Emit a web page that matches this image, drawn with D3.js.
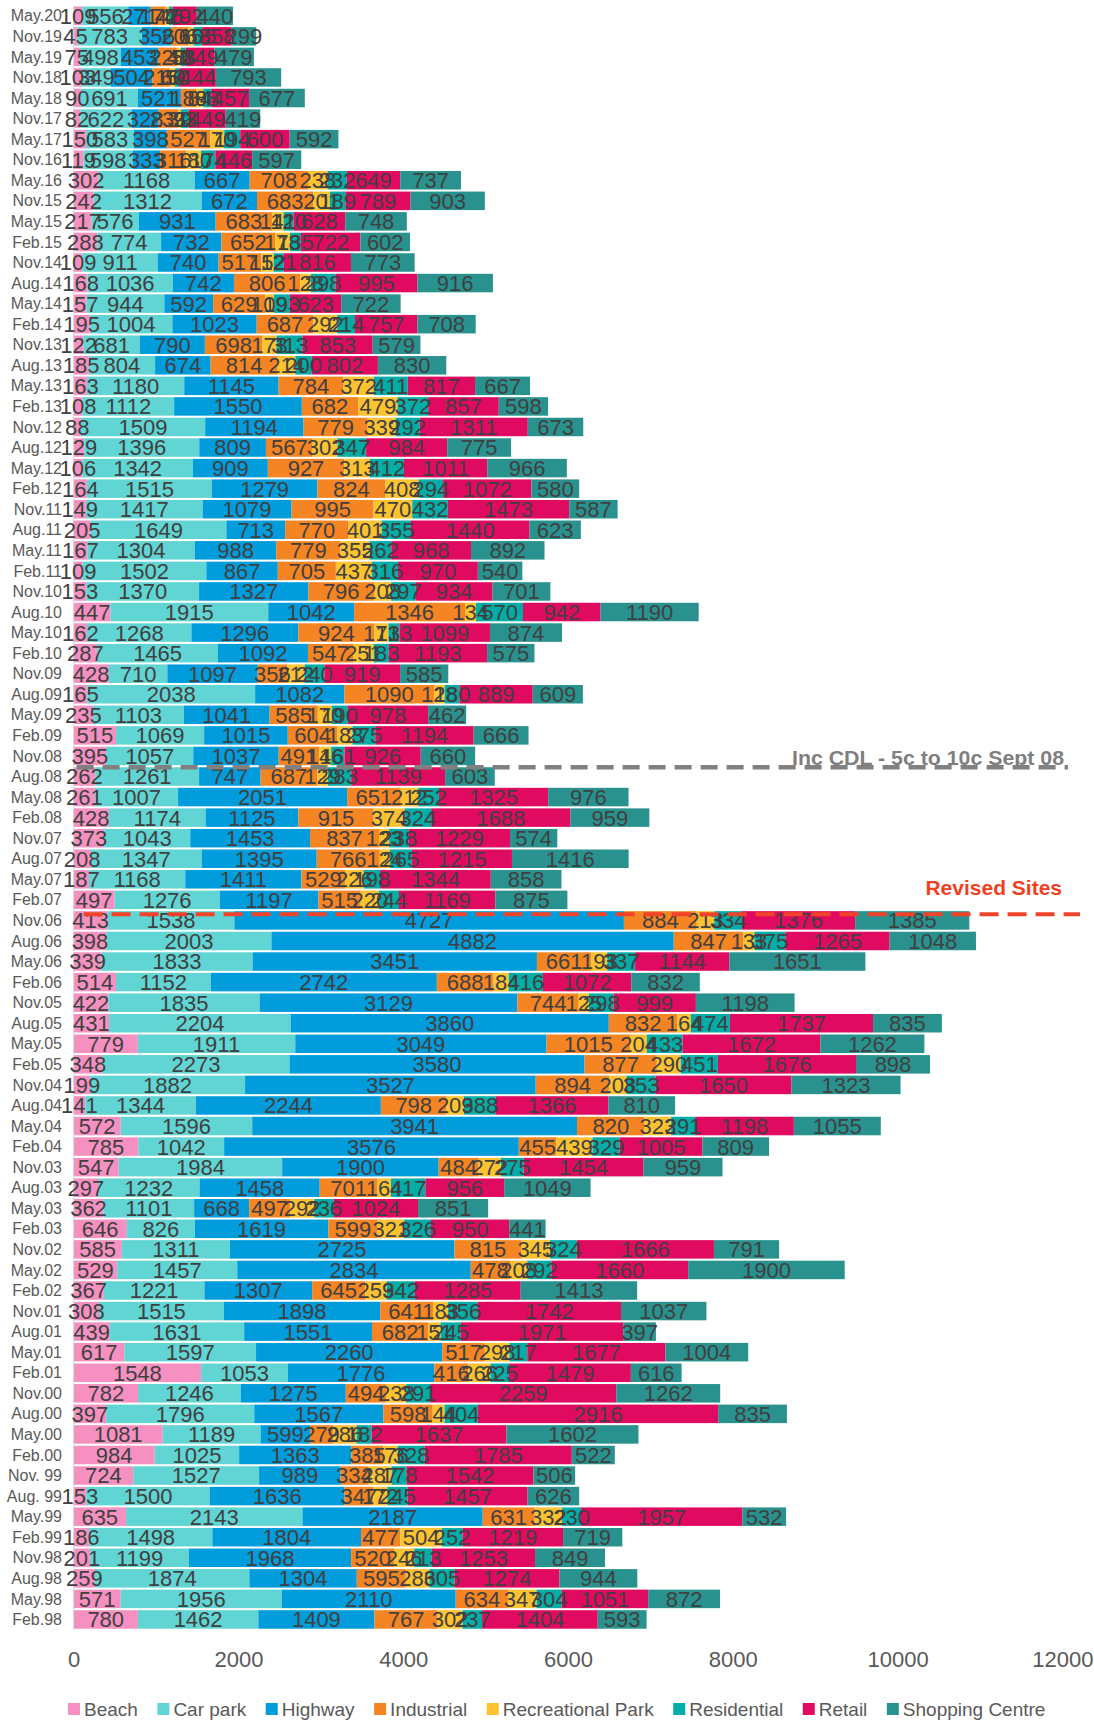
<!DOCTYPE html>
<meta charset="utf-8">
<style>
  body { margin: 0; background: #fff; }
  text { font-family: "Liberation Sans", Arial, sans-serif; }
</style>
<script src="https://d3js.org/d3.v7.min.js"></script>
<div id="my_dataviz"></div>
<script>

// survey periods, top of chart to bottom
var periods = ["May.20","Nov.19","May.19","Nov.18","May.18","Nov.17","May.17","Nov.16","May.16","Nov.15",
  "May.15","Feb.15","Nov.14","Aug.14","May.14","Feb.14","Nov.13","Aug.13","May.13","Feb.13",
  "Nov.12","Aug.12","May.12","Feb.12","Nov.11","Aug.11","May.11","Feb.11","Nov.10","Aug.10",
  "May.10","Feb.10","Nov.09","Aug.09","May.09","Feb.09","Nov.08","Aug.08","May.08","Feb.08",
  "Nov.07","Aug.07","May.07","Feb.07","Nov.06","Aug.06","May.06","Feb.06","Nov.05","Aug.05",
  "May.05","Feb.05","Nov.04","Aug.04","May.04","Feb.04","Nov.03","Aug.03","May.03","Feb.03",
  "Nov.02","May.02","Feb.02","Nov.01","Aug.01","May.01","Feb.01","Nov.00","Aug.00","May.00",
  "Feb.00","Nov. 99","Aug. 99","May.99","Feb.99","Nov.98","Aug.98","May.98","Feb.98"];

var seriesNames = ["Beach","Car park","Highway","Industrial","Recreational Park","Residential","Retail","Shopping Centre"];

var beach = [109,45,75,103,90,82,150,119,302,242,217,288,109,168,157,195,122,185,163,108,
  88,129,106,164,149,205,167,109,153,447,162,287,428,165,235,515,395,262,261,428,
  373,208,187,497,413,398,339,514,422,431,779,348,199,141,572,785,547,297,362,646,
  585,529,367,308,439,617,1548,782,397,1081,984,724,153,635,186,201,259,571,780];
var carPark = [556,783,498,349,691,622,583,598,1168,1312,576,774,911,1036,944,1004,681,804,1180,1112,
  1509,1396,1342,1515,1417,1649,1304,1502,1370,1915,1268,1465,710,2038,1103,1069,1057,1261,1007,1174,
  1043,1347,1168,1276,1538,2003,1833,1152,1835,2204,1911,2273,1882,1344,1596,1042,1984,1232,1101,826,
  1311,1457,1221,1515,1631,1597,1053,1246,1796,1189,1025,1527,1500,2143,1498,1199,1874,1956,1462];
var highway = [271,356,453,504,521,328,398,333,667,672,931,732,740,742,592,1023,790,674,1145,1550,
  1194,809,909,1279,1079,713,988,867,1327,1042,1296,1092,1097,1082,1041,1015,1037,747,2051,1125,
  1453,1395,1411,1197,4727,4882,3451,2742,3129,3860,3049,3580,3527,2244,3941,3576,1900,1458,668,1619,
  2725,2834,1307,1898,1551,2260,1776,1275,1567,599,1363,989,1636,2187,1804,1968,1304,2110,1409];
var industrial = [174,206,228,216,188,233,527,316,708,683,683,652,517,806,629,687,698,814,784,682,
  779,567,927,824,995,770,779,705,796,1346,924,547,356,1090,585,604,491,687,651,915,
  837,766,529,515,884,847,661,688,744,832,1015,877,894,798,820,455,484,701,497,599,
  815,478,645,641,682,517,416,494,598,279,385,334,347,631,477,520,595,634,767];
var recreational = [47,65,48,60,84,39,170,180,238,201,141,178,152,128,109,292,173,214,372,479,
  339,302,313,408,470,401,355,437,208,134,171,251,212,128,170,183,146,129,212,374,
  123,124,226,220,213,133,193,184,125,164,204,290,208,209,323,439,272,164,292,321,
  345,208,259,183,151,298,266,238,144,286,176,287,172,332,504,246,286,347,302];
var residential = [46,105,58,50,98,93,194,174,232,189,120,135,121,298,193,214,313,200,411,372,
  292,347,412,294,432,355,262,316,297,570,133,183,240,180,190,275,161,283,252,324,
  238,265,198,244,334,375,337,416,298,474,433,451,353,388,291,329,275,417,236,326,
  324,292,342,356,245,217,225,291,404,182,328,178,245,230,252,213,305,304,237];
var retail = [292,358,349,444,457,449,600,446,649,789,628,722,816,995,623,757,853,802,817,857,
  1311,984,1011,1072,1473,1440,968,970,934,942,1099,1193,919,889,978,1194,926,1139,1325,1688,
  1229,1215,1344,1169,1376,1265,1144,1072,999,1737,1672,1676,1650,1366,1198,1005,1454,956,1024,950,
  1666,1660,1285,1742,1971,1677,1479,2259,2916,1637,1785,1542,1457,1957,1219,1253,1274,1051,1404];
var shopping = [440,299,479,793,677,419,592,597,737,903,748,602,773,916,722,708,579,830,667,598,
  673,775,966,580,587,623,892,540,701,1190,874,575,585,609,462,666,660,603,976,959,
  574,1416,858,875,1385,1048,1651,832,1198,835,1262,898,1323,810,1055,809,959,1049,851,441,
  791,1900,1413,1037,397,1004,616,1262,835,1602,522,506,626,532,719,849,944,872,593];

var xTicks = [0, 2000, 4000, 6000, 8000, 10000, 12000];

var colors = ["#F590C0","#61D5D3","#019CDC","#F58423","#FDC22F","#00ADA7","#E00B60","#29928E"];

// build rows for d3.stack
var seriesValues = [beach, carPark, highway, industrial, recreational, residential, retail, shopping];
var rows = periods.map(function(p, i) {
  var r = {period: p};
  seriesNames.forEach(function(s, j) { r[s] = seriesValues[j][i]; });
  return r;
});
var stacked = d3.stack().keys(seriesNames)(rows);

var width = 1094, height = 1720;

var svg = d3.select("#my_dataviz")
  .append("svg")
    .attr("width", width)
    .attr("height", height);

// scales
var x = d3.scaleLinear()
  .domain([0, 12000])
  .range([73.6, 1062.4]);

var y = d3.scaleBand()
  .domain(periods)
  .range([5.5, 5.5 + 20.56 * periods.length])
  .paddingInner(0.1)
  .paddingOuter(0.05);

// bars
var layers = svg.selectAll("g.layer")
  .data(stacked)
  .enter()
  .append("g")
    .attr("class", "layer")
    .attr("fill", function(d, i) { return colors[i]; });

layers.selectAll("rect")
  .data(function(d) { return d; })
  .enter()
  .append("rect")
    .attr("x", function(d) { return x(d[0]); })
    .attr("y", function(d) { return y(d.data.period); })
    .attr("width", function(d) { return x(d[1]) - x(d[0]); })
    .attr("height", y.bandwidth());

// vertical axis line
svg.append("line")
  .attr("x1", x(0)).attr("x2", x(0))
  .attr("y1", y.range()[0]).attr("y2", y.range()[1])
  .attr("stroke", "#d9d9d9")
  .attr("stroke-width", 1);

// category labels
svg.selectAll("text.cat")
  .data(periods)
  .enter()
  .append("text")
    .attr("class", "cat")
    .attr("x", 62)
    .attr("y", function(d) { return y(d) + y.bandwidth() / 2; })
    .attr("dy", "0.35em")
    .attr("text-anchor", "end")
    .style("font-size", "16px")
    .style("fill", "#595959")
    .text(function(d) { return d; });

// data labels
stacked.forEach(function(layer) {
  svg.append("g")
    .selectAll("text")
    .data(layer)
    .enter()
    .append("text")
      .attr("x", function(d) { return (x(d[0]) + x(d[1])) / 2; })
      .attr("y", function(d) { return y(d.data.period) + y.bandwidth() / 2; })
      .attr("dy", "0.36em")
      .attr("text-anchor", "middle")
      .style("font-size", "22px")
      .style("fill", "#404040")
      .text(function(d) { return d[1] - d[0]; });
});

// annotation lines
var yCdl = (y("Nov.08") + y.bandwidth() + y("Aug.08")) / 2 + 1;
svg.append("line")
  .attr("x1", x(0) + 3).attr("x2", 1068)
  .attr("y1", yCdl).attr("y2", yCdl)
  .attr("stroke", "#808080")
  .attr("stroke-width", 4.5)
  .attr("stroke-dasharray", "17,9");
svg.append("text")
  .attr("x", 1064)
  .attr("y", yCdl - 2)
  .attr("text-anchor", "end")
  .attr("textLength", 272)
  .attr("lengthAdjust", "spacingAndGlyphs")
  .style("font-size", "20px")
  .style("font-weight", "bold")
  .style("fill", "#7F7F7F")
  .text("Inc CDL - 5c to 10c Sept 08");

var yRev = y("Nov.06") + 3;
svg.append("line")
  .attr("x1", x(0) + 10).attr("x2", 1080)
  .attr("y1", yRev).attr("y2", yRev)
  .attr("stroke", "#F0432A")
  .attr("stroke-width", 4)
  .attr("stroke-dasharray", "19,9");
svg.append("text")
  .attr("x", 1062)
  .attr("y", 894.5)
  .attr("text-anchor", "end")
  .style("font-size", "21px")
  .style("font-weight", "bold")
  .style("fill", "#F0411F")
  .text("Revised Sites");

// X axis
var xAxis = svg.append("g")
  .attr("transform", "translate(0,1659)")
  .call(d3.axisBottom(x).tickValues(xTicks).tickSize(0).tickPadding(0).tickFormat(d3.format("d")));
xAxis.select(".domain").remove();
xAxis.selectAll("text")
  .attr("y", 0)
  .attr("dy", "0.35em")
  .style("font-family", "'Liberation Sans', Arial, sans-serif")
  .style("font-size", "22px")
  .style("fill", "#595959");

// legend, laid out from left to right
var lx = 68;
seriesNames.forEach(function(s, i) {
  svg.append("rect")
    .attr("x", lx).attr("y", 1703)
    .attr("width", 12).attr("height", 12)
    .style("fill", colors[i]);
  var t = svg.append("text")
    .attr("x", lx + 16).attr("y", 1709)
    .attr("dy", "0.35em")
    .style("font-size", "19px")
    .style("fill", "#595959")
    .text(s);
  lx += 16 + t.node().getComputedTextLength() + 19.5;
});

</script>
